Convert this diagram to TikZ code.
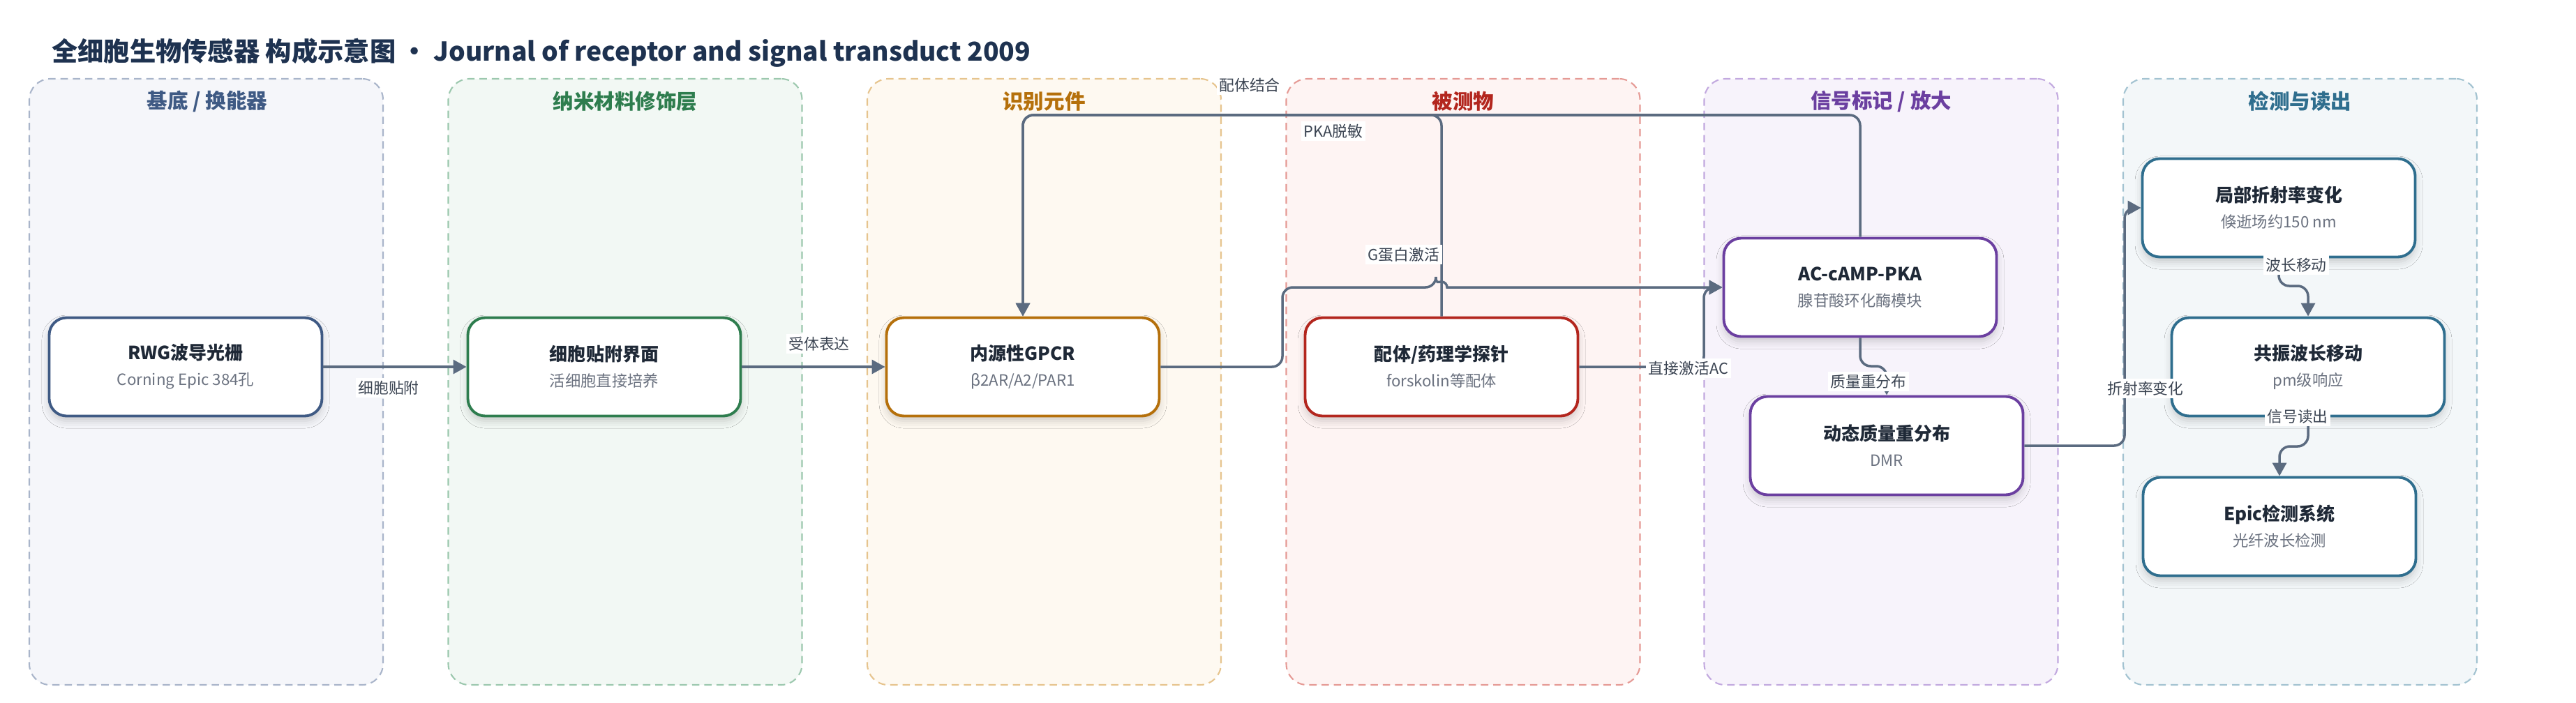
\documentclass[tikz,border=0pt]{standalone}
\usepackage{fontspec}
\setmainfont{Noto Sans CJK SC}
\usetikzlibrary{arrows.meta,shadows.blur}

\definecolor{titlec}{HTML}{1E3250}
\definecolor{textc}{HTML}{1F2937}
\definecolor{subgray}{HTML}{6B7280}
\definecolor{labelc}{HTML}{3B4452}
\definecolor{edgec}{HTML}{5B6B80}
\definecolor{basec}{HTML}{3F5A84}
\definecolor{basefill}{HTML}{F5F6FA}
\definecolor{basedash}{HTML}{A9B5CA}
\definecolor{nanoc}{HTML}{2E7D4E}
\definecolor{nanofill}{HTML}{F2F8F4}
\definecolor{nanodash}{HTML}{9CC8AE}
\definecolor{recogc}{HTML}{B5700B}
\definecolor{recogfill}{HTML}{FEF9F1}
\definecolor{recogdash}{HTML}{E6C48E}
\definecolor{anac}{HTML}{B3261E}
\definecolor{anafill}{HTML}{FEF4F3}
\definecolor{anadash}{HTML}{E59A95}
\definecolor{sigc}{HTML}{6B3FA0}
\definecolor{sigfill}{HTML}{F7F3FB}
\definecolor{sigdash}{HTML}{C2A9DF}
\definecolor{detc}{HTML}{2F6E8E}
\definecolor{detfill}{HTML}{F3F7F9}
\definecolor{detdash}{HTML}{A3C3D1}

\newcommand{\nodetext}[2]{{\bfseries #1}\\{\fontsize{6.35}{10.5}\selectfont\color{subgray}#2}}

\begin{document}
\begin{tikzpicture}[x=1cm, y=-1cm, node distance=6cm,
		>={Triangle[length=0.19cm,width=0.2cm]},
		main node/.style={draw, fill=white, rounded corners=0.25cm, line width=1.1pt,
			minimum width=3.91cm, minimum height=1.41cm, align=center, text=textc,
			font=\fontsize{7.4}{10.5}\selectfont,
			blur shadow={shadow xshift=0pt, shadow yshift=-2pt, shadow blur radius=3pt, shadow opacity=18}},
		lane node/.style={rounded corners=0.3cm, line width=0.6pt, dash pattern=on 3pt off 2pt,
			minimum width=5.07cm, minimum height=8.69cm},
		lane title/.style={font=\fontsize{8.4}{10}\selectfont\bfseries},
		edge label/.style={fill=white, inner sep=1pt, text=labelc, font=\fontsize{6.2}{7}\selectfont},
		flow/.style={->, draw=edgec, line width=1pt, rounded corners=0.15cm}]
		
		\fill[white] (0,0) rectangle (36.92,10.07);
		\useasboundingbox (0,0) rectangle (36.92,10.07);
		
		\node[anchor=west, text=titlec, font=\fontsize{10.6}{12}\selectfont\bfseries] (title) at (0.62,0.76)
			{全细胞生物传感器 构成示意图 • Journal of receptor and signal transduct 2009};
		
		% lanes
		\node[lane node, draw=basedash, fill=basefill] (lanebase) at (2.955,5.475) {};
		\node[lane node, draw=nanodash, fill=nanofill] (lanenano) at (8.96,5.475) {};
		\node[lane node, draw=recogdash, fill=recogfill] (lanerecog) at (14.965,5.475) {};
		\node[lane node, draw=anadash, fill=anafill] (laneana) at (20.97,5.475) {};
		\node[lane node, draw=sigdash, fill=sigfill] (lanesig) at (26.96,5.475) {};
		\node[lane node, draw=detdash, fill=detfill] (lanedet) at (32.965,5.475) {};
		
		\node[lane title, text=basec] (tbase) at (2.97,1.45) {基底 / 换能器};
		\node[lane title, text=nanoc] (tnano) at (8.96,1.45) {纳米材料修饰层};
		\node[lane title, text=recogc] (trecog) at (14.965,1.45) {识别元件};
		\node[lane title, text=anac] (tana) at (20.97,1.45) {被测物};
		\node[lane title, text=sigc] (tsig) at (26.96,1.45) {信号标记 / 放大};
		\node[lane title, text=detc] (tdet) at (32.965,1.45) {检测与读出};
		
		% boxes
		\node[main node, draw=basec] (rwg) at (2.66,5.26) {\nodetext{RWG波导光栅}{Corning Epic 384孔}};
		\node[main node, draw=nanoc] (cell) [right of=rwg] {\nodetext{细胞贴附界面}{活细胞直接培养}};
		\node[main node, draw=recogc] (gpcr) [right of=cell] {\nodetext{内源性GPCR}{β2AR/A2/PAR1}};
		\node[main node, draw=anac] (ligand) [right of=gpcr] {\nodetext{配体/药理学探针}{forskolin等配体}};
		\node[main node, draw=sigc] (ac) [right of=ligand, yshift=1.14cm] {\nodetext{AC-cAMP-PKA}{腺苷酸环化酶模块}};
		\node[main node, draw=sigc] (dmr) [below of=ac, node distance=2.27cm, xshift=0.38cm] {\nodetext{动态质量重分布}{DMR}};
		\node[main node, draw=detc] (loc) [right of=ac, yshift=1.14cm] {\nodetext{局部折射率变化}{倏逝场约150 nm}};
		\node[main node, draw=detc] (res) [below of=loc, node distance=2.28cm, xshift=0.42cm] {\nodetext{共振波长移动}{pm级响应}};
		\node[main node, draw=detc] (epic) [below of=res, node distance=2.29cm, xshift=-0.41cm] {\nodetext{Epic检测系统}{光纤波长检测}};
		
		% connectors
		\draw[flow] (rwg) -- (cell);
		\draw[flow] (cell) -- (gpcr);
		\draw[flow] (ligand.north) -- (20.66,1.65) -| (gpcr.north);
		\draw[flow] (ac.north) -- (26.66,1.65) -| (gpcr.north);
		\draw[flow] (gpcr.east) -- (18.38,5.26) -- (18.38,4.12) -- (20.58,4.12)
			[sharp corners] arc[start angle=180, end angle=360, radius=0.08] -- (ac.west);
		\draw[flow] (ligand.east) -- (24.42,5.26) |- (ac.west);
		\draw[flow] (ac.south) -- (26.66,5.25) -| (dmr.north);
		\draw[flow] (dmr.east) -- (30.45,6.39) |- (loc.west);
		\draw[flow] (loc.south) -- (32.66,4.10) -| (res.north);
		\draw[flow] (res.south) -- (33.08,6.40) -| (epic.north);
		
		% labels
		\node[edge label] (lattach) at (5.57,5.56) {细胞贴附};
		\node[edge label] (lexpr) at (11.74,4.93) {受体表达};
		\node[edge label] (lbind) at (17.91,1.22) {配体结合};
		\node[edge label] (ldesens) at (19.11,1.88) {PKA脱敏};
		\node[edge label] (lgprot) at (20.12,3.65) {G蛋白激活};
		\node[edge label] (ldirect) at (24.20,5.28) {直接激活AC};
		\node[edge label] (lmass) at (26.78,5.47) {质量重分布};
		\node[edge label] (lri) at (30.75,5.57) {折射率变化};
		\node[edge label] (lshift) at (32.91,3.80) {波长移动};
		\node[edge label] (lread) at (32.93,5.97) {信号读出};
\end{tikzpicture}
\end{document}
